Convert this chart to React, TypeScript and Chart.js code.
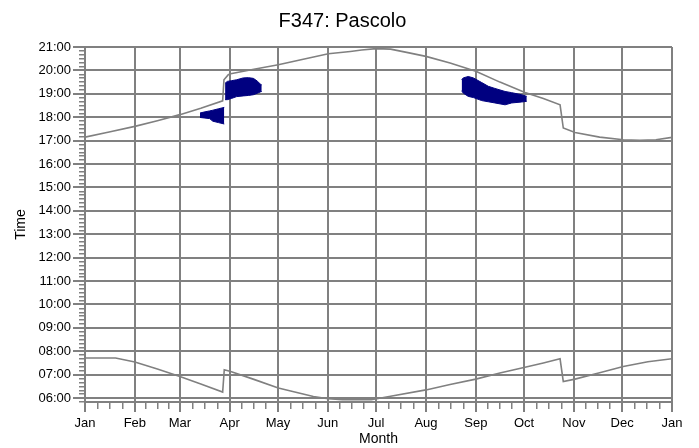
import { useEffect, useRef } from 'react';
import { Chart, registerables } from 'chart.js';

Chart.register(...registerables);

// ---- Axis definitions ----
const monthLabels = ['Jan', 'Feb', 'Mar', 'Apr', 'May', 'Jun', 'Jul', 'Aug', 'Sep', 'Oct', 'Nov', 'Dec', 'Jan'];
const monthStartDays = [0, 31, 59, 90, 120, 151, 181, 212, 243, 273, 304, 334, 365];
const hourValues = [6, 7, 8, 9, 10, 11, 12, 13, 14, 15, 16, 17, 18, 19, 20, 21];
const hourLabels = ['06:00', '07:00', '08:00', '09:00', '10:00', '11:00', '12:00', '13:00', '14:00', '15:00', '16:00', '17:00', '18:00', '19:00', '20:00', '21:00'];

// ---- Sunset curve (day of year, hours) ----
const sunsetDays = [0, 15, 31, 45, 59, 72, 85.6, 86.4, 89.1, 90.6, 105, 120.2, 135, 151.3, 165, 172, 181, 190, 200, 212, 227, 243, 258, 273.6, 285, 295.4, 297.4, 304.7, 320, 334.7, 345, 355, 365];
const sunsetTimes = [17.15, 17.37, 17.61, 17.85, 18.11, 18.38, 18.70, 19.60, 19.82, 19.86, 20.05, 20.24, 20.47, 20.71, 20.81, 20.87, 20.93, 20.91, 20.77, 20.60, 20.32, 19.96, 19.50, 19.06, 18.80, 18.53, 17.54, 17.35, 17.15, 17.04, 17.01, 17.04, 17.14];

// ---- Sunrise curve ----
const sunriseDays = [0, 19, 31, 45, 59, 72, 85.6, 86.6, 90.6, 105, 120.2, 142, 151.3, 160, 178, 190, 212, 227, 243, 258, 273.6, 285, 295.4, 297.4, 304.7, 320, 334.7, 350, 365];
const sunriseTimes = [7.71, 7.71, 7.54, 7.24, 6.92, 6.60, 6.26, 7.21, 7.14, 6.80, 6.43, 6.07, 5.97, 5.93, 5.93, 6.08, 6.35, 6.58, 6.81, 7.07, 7.32, 7.50, 7.68, 6.71, 6.81, 7.08, 7.35, 7.55, 7.68];

// ---- Shading regions (upper / lower boundaries) ----
const blobADays = [71.5, 74, 77.5, 79.5, 83, 86.6];
const blobATop = [18.18, 18.22, 18.27, 18.30, 18.36, 18.42];
const blobABottom = [17.99, 17.97, 17.94, 17.83, 17.77, 17.71];

const blobBDays = [87.1, 88.5, 91, 94.3, 98.4, 101.6, 104.7, 107, 109, 109.9];
const blobBTop = [19.45, 19.53, 19.56, 19.60, 19.68, 19.69, 19.66, 19.55, 19.42, 19.38];
const blobBBottom = [18.75, 18.75, 18.80, 18.88, 18.91, 18.93, 18.96, 19.02, 19.08, 19.10];

const blobCDays = [234.2, 235.2, 238.3, 241.5, 246.7, 250.8, 254.9, 261.2, 265.3, 271.5, 274.7];
const blobCTop = [19.60, 19.68, 19.74, 19.68, 19.48, 19.32, 19.23, 19.10, 19.05, 18.96, 18.89];
const blobCBottom = [19.13, 19.03, 18.89, 18.84, 18.71, 18.66, 18.61, 18.53, 18.61, 18.65, 18.68];

const Y_MIN = 5 + 50 / 60;
const Y_MAX = 21;

const GRAY = '#808080';
const NAVY = '#000080';

const toXY = (xs: number[], ys: number[]) => xs.map((x, i) => ({ x, y: ys[i] }));

export default function App() {
  const canvasRef = useRef<HTMLCanvasElement | null>(null);

  useEffect(() => {
    if (!canvasRef.current) return;
    Chart.defaults.font.family = '"Liberation Sans", Arial, sans-serif';
    Chart.defaults.color = '#000';

    const curve = (label: string, xs: number[], ys: number[]) => ({
      label,
      data: toXY(xs, ys),
      borderColor: GRAY,
      borderWidth: 1.6,
      pointRadius: 0,
      fill: false,
      tension: 0,
    });
    const blobTop = (label: string, xs: number[], ys: number[]) => ({
      label,
      data: toXY(xs, ys),
      borderColor: NAVY,
      borderWidth: 1,
      pointRadius: 0,
      fill: false,
      tension: 0,
    });
    const blobBottom = (label: string, xs: number[], ys: number[]) => ({
      label,
      data: toXY(xs, ys),
      borderColor: NAVY,
      backgroundColor: NAVY,
      borderWidth: 1,
      pointRadius: 0,
      fill: '-1',
      tension: 0,
    });

    const xMinorTicks: number[] = [];
    for (let i = 0; i < monthStartDays.length - 1; i++) {
      const a = monthStartDays[i];
      const b = monthStartDays[i + 1];
      for (let k = 1; k < 4; k++) xMinorTicks.push(a + ((b - a) * k) / 4);
    }
    const yMinorTicks: number[] = [];
    for (let m = 350; m <= 1260; m += 10) {
      if (m % 60 !== 0) yMinorTicks.push(m / 60);
    }

    const chart = new Chart(canvasRef.current, {
      type: 'line',
      data: {
        datasets: [
          curve('Sunset', sunsetDays, sunsetTimes),
          curve('Sunrise', sunriseDays, sunriseTimes),
          blobTop('A top', blobADays, blobATop),
          blobBottom('A bottom', blobADays, blobABottom),
          blobTop('B top', blobBDays, blobBTop),
          blobBottom('B bottom', blobBDays, blobBBottom),
          blobTop('C top', blobCDays, blobCTop),
          blobBottom('C bottom', blobCDays, blobCBottom),
        ] as any,
      },
      options: {
        responsive: false,
        animation: false,
        devicePixelRatio: 1,
        layout: { padding: { left: 13, right: 27, top: 0, bottom: 0 } },
        plugins: {
          legend: { display: false },
          tooltip: { enabled: false },
          title: {
            display: true,
            text: 'F347: Pascolo',
            color: '#000',
            font: { size: 20, weight: 'normal' },
            padding: { top: 9, bottom: 14 },
          },
        },
        scales: {
          x: {
            type: 'linear',
            position: 'bottom',
            weight: 1,
            min: 0,
            max: 365,
            afterBuildTicks: (scale: any) => {
              scale.ticks = monthStartDays.map((v) => ({ value: v }));
            },
            afterFit: (scale: any) => {
              scale.height = 46;
            },
            ticks: {
              autoSkip: false,
              maxRotation: 0,
              padding: 4,
              font: { size: 13 },
              color: '#000',
              callback: (_v: any, i: number) => monthLabels[i],
            },
            grid: {
              color: GRAY,
              lineWidth: 2,
              tickLength: 10,
              tickColor: GRAY,
              tickWidth: 2,
            },
            border: { display: true, color: GRAY, width: 2 },
            title: {
              display: true,
              text: 'Month',
              color: '#000',
              font: { size: 14 },
              padding: { top: 0, bottom: 0 },
            },
          },
          xMinor: {
            type: 'linear',
            position: 'bottom',
            weight: 0,
            min: 0,
            max: 365,
            afterBuildTicks: (scale: any) => {
              scale.ticks = xMinorTicks.map((v) => ({ value: v }));
            },
            afterFit: (scale: any) => {
              scale.height = 0;
            },
            ticks: { display: false },
            grid: {
              drawOnChartArea: false,
              color: GRAY,
              lineWidth: 1.5,
              tickLength: 7,
              tickColor: GRAY,
              tickWidth: 1.5,
            },
            border: { display: false },
          },
          y: {
            type: 'linear',
            position: 'left',
            weight: 1,
            min: Y_MIN,
            max: Y_MAX,
            afterBuildTicks: (scale: any) => {
              scale.ticks = hourValues.map((v) => ({ value: v }));
            },
            afterFit: (scale: any) => {
              scale.width = 72;
            },
            ticks: {
              autoSkip: false,
              padding: 2,
              font: { size: 13 },
              color: '#000',
              callback: (_v: any, i: number) => hourLabels[i],
            },
            grid: {
              color: GRAY,
              lineWidth: 2,
              tickLength: 12,
              tickColor: GRAY,
              tickWidth: 2,
            },
            border: { display: true, color: GRAY, width: 2 },
            title: {
              display: true,
              text: 'Time',
              color: '#000',
              font: { size: 14 },
              padding: { top: 0, bottom: 0 },
            },
          },
          yMinor: {
            type: 'linear',
            position: 'left',
            weight: 0,
            min: Y_MIN,
            max: Y_MAX,
            afterBuildTicks: (scale: any) => {
              scale.ticks = yMinorTicks.map((v) => ({ value: v }));
            },
            afterFit: (scale: any) => {
              scale.width = 0;
            },
            ticks: { display: false },
            grid: {
              drawOnChartArea: false,
              color: GRAY,
              lineWidth: 1.5,
              tickLength: 6,
              tickColor: GRAY,
              tickWidth: 1.5,
            },
            border: { display: false },
          },
        },
      } as any,
    });

    return () => chart.destroy();
  }, []);

  return (
    <div style={{ position: 'fixed', left: 0, top: 0, width: 699, height: 448, background: '#fff' }}>
      <canvas ref={canvasRef} width={699} height={448} style={{ display: 'block', width: 699, height: 448 }} />
    </div>
  );
}
